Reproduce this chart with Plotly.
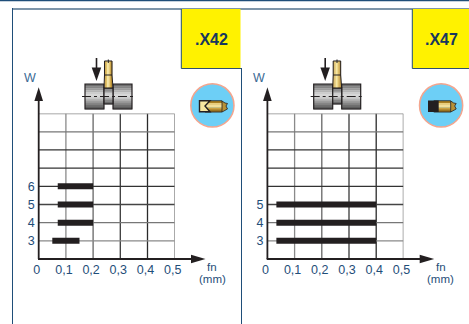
import plotly.graph_objects as go

W_PX = 469
H_PX = 324

X_TICKS = [0, 0.1, 0.2, 0.3, 0.4, 0.5]
X_LABELS = ["0", "0,1", "0,2", "0,3", "0,4", "0,5"]
W_ROWS = [3, 4, 5, 6, 7, 8, 9, 10]

LEFT_CODE = ".X42"
LEFT_W = [3, 4, 5, 6]
LEFT_START = [0.05, 0.07, 0.07, 0.07]
LEFT_END = [0.15, 0.2, 0.2, 0.2]

RIGHT_CODE = ".X47"
RIGHT_W = [3, 4, 5]
RIGHT_START = [0.033, 0.033, 0.033]
RIGHT_END = [0.4, 0.4, 0.4]

INK = "#231f20"
BLUE = "#1f4e79"
YELLOW = "#fff200"
X_GRID_COLORS = ["#8a8a8a", "#666666", "#3a3a3a", "#2a2a2a", "#808080"]
W_GRID_COLORS = ["#8a8a8a", "#777777", "#444444", "#333333", "#333333", "#333333", "#777777", "#8a8a8a"]
STEEL = ["#6f6f6f", "#858585", "#9c9c9c", "#b4b4b4", "#cccccc", "#d6d6d6",
         "#cccccc", "#b4b4b4", "#9c9c9c", "#858585", "#6f6f6f", "#5c5c5c"]
GOLD = ["#c9a24a", "#e0c268", "#f5e6a6", "#f0d98a", "#d8b350", "#b88f35"]

shapes = []
annotations = []


def px(x):
    return x / W_PX


def py(y):
    return 1 - y / H_PX


def rect(x0, y0, x1, y1, fill, line=None, width=0, layer="above"):
    shapes.append(dict(type="rect", xref="paper", yref="paper", x0=px(x0), x1=px(x1),
                       y0=py(y0), y1=py(y1), fillcolor=fill, layer=layer,
                       line=dict(color=line or fill, width=width)))


def seg(x0, y0, x1, y1, color, width=1, dash=None):
    shapes.append(dict(type="line", xref="paper", yref="paper", x0=px(x0), x1=px(x1),
                       y0=py(y0), y1=py(y1), line=dict(color=color, width=width, dash=dash)))


def poly(points, fill, line=None, width=0):
    path = "M" + " L".join(f"{px(x):.5f},{py(y):.5f}" for x, y in points) + " Z"
    shapes.append(dict(type="path", xref="paper", yref="paper", path=path, fillcolor=fill,
                       line=dict(color=line or fill, width=width)))


def label(x, y, text, size=12, color=BLUE, bold=False):
    annotations.append(dict(xref="paper", yref="paper", x=px(x), y=py(y), text=f"<b>{text}</b>" if bold else text,
                            showarrow=False, xanchor="center", yanchor="middle",
                            font=dict(family="Liberation Sans", size=size, color=color)))


def steel_block(x0, y0, x1, y1):
    step = (y1 - y0) / len(STEEL)
    for i, c in enumerate(STEEL):
        rect(x0, y0 + i * step, x1, y0 + (i + 1) * step + 0.3, c)
    rect(x0, y0, x1, y1, "rgba(0,0,0,0)", INK, 1.2)


def gold_stripes(x0, x1, y0, y1):
    step = (x1 - x0) / len(GOLD)
    for i, c in enumerate(GOLD):
        rect(x0 + i * step, y0, x0 + (i + 1) * step + 0.2, y1, c)


def draw_icons(dx, dark_block):
    # workpiece and feed arrow
    steel_block(85 + dx, 84, 104 + dx, 109)
    steel_block(113 + dx, 84, 132 + dx, 109)
    steel_block(104 + dx, 88, 113 + dx, 104)
    seg(82 + dx, 96.5, 135 + dx, 96.5, INK, 1, "dashdot")
    gold_stripes(104.5 + dx, 112 + dx, 61, 88)
    poly([(104.5 + dx, 61), (112 + dx, 61), (112 + dx, 75), (113 + dx, 88), (104 + dx, 88), (104.5 + dx, 75)],
         "rgba(0,0,0,0)", INK, 1)
    seg(104.5 + dx, 75, 112 + dx, 75, INK, 1)
    seg(108.3 + dx, 59.5, 108.3 + dx, 63, INK, 1)
    seg(96.5 + dx, 58, 96.5 + dx, 70, INK, 1.6)
    poly([(91.7 + dx, 67.5), (101.2 + dx, 67.5), (96.5 + dx, 81)], INK)

    # insert badge
    shapes.append(dict(type="circle", xref="paper", yref="paper", x0=px(190.8 + dx), x1=px(234 + dx),
                       y0=py(83.8), y1=py(127), fillcolor="#6dcff6", line=dict(color="#f4a58e", width=1.5)))
    gold_bands = [("#a97f20", 101), ("#e8cf80", 103), ("#f3e09a", 105), ("#cda445", 107.5), ("#9c7420", 109.5)]
    for c, y in gold_bands:
        rect(205 + dx, y, 222 + dx, y + 2.6, c)
    poly([(222 + dx, 101), (225 + dx, 103), (227.5 + dx, 103.5), (226 + dx, 106), (227.5 + dx, 109),
          (222 + dx, 112)], "#b89238", INK, 0.8)
    seg(205 + dx, 100.7, 222 + dx, 100.7, INK, 0.8)
    seg(205 + dx, 112, 222 + dx, 112, INK, 0.8)
    if dark_block:
        rect(199.3 + dx, 100.5, 210 + dx, 112, INK)
    else:
        poly([(199.5 + dx, 100.7), (210 + dx, 100.7), (205 + dx, 106), (210 + dx, 111.8), (199.5 + dx, 111.8)],
             "#f7e6a0", INK, 1.4)


def draw_panel(dx, code, x_ref, y_ref, box_left, code_x):
    # frame pieces
    rect(box_left, 9, 240.5 + dx, 68.5, YELLOW, layer="below")
    seg(box_left, 9, box_left, 68.5, BLUE, 1)
    seg(box_left, 68.5, 241 + dx, 68.5, "#30506e", 1)
    label(code_x, 39.7, code, 16, "#17375e", True)
    label(30 + dx, 78.3, "W", 12.5, "#3b6a94")
    label(212 + dx, 267, "fn", 11.5)
    label(212 + dx, 279, "(mm)", 11.5)
    draw_icons(dx, code == RIGHT_CODE)

    # grid, axis units through the subplot scales
    for v, c in zip(X_TICKS[1:], X_GRID_COLORS):
        shapes.append(dict(type="line", xref=x_ref, yref=y_ref, x0=v, x1=v, y0=2, y1=10, layer="below",
                           line=dict(color=c, width=1.3)))
    for v, c in zip(W_ROWS, W_GRID_COLORS):
        shapes.append(dict(type="line", xref=x_ref, yref=y_ref, x0=0, x1=0.5, y0=v, y1=v, layer="below",
                           line=dict(color=c, width=1.3)))

    # axes with arrow heads
    seg(38.7 + dx, 259, 38.7 + dx, 98, INK, 1.8)
    poly([(38.7 + dx, 87.3), (43 + dx, 101), (34.4 + dx, 101)], INK)
    seg(38 + dx, 259, 193 + dx, 259, INK, 1.8)
    poly([(205.5 + dx, 259), (191 + dx, 254.7), (191 + dx, 263.3)], INK)


fig = go.Figure()

for code, xa, ya, rows, starts, ends in [
    (LEFT_CODE, "x", "y", LEFT_W, LEFT_START, LEFT_END),
    (RIGHT_CODE, "x2", "y2", RIGHT_W, RIGHT_START, RIGHT_END),
]:
    fig.add_trace(go.Bar(
        y=rows,
        x=[e - s for s, e in zip(starts, ends)],
        base=starts,
        orientation="h",
        width=0.33,
        marker=dict(color=INK, line=dict(width=0)),
        xaxis=xa,
        yaxis=ya,
        name=code,
        showlegend=False,
    ))

# page frame
rect(0, 0, W_PX, 1.2, BLUE, layer="below")
rect(12, 8, W_PX, 10, "#7d95aa", layer="below")
rect(12, 8, 13, H_PX, BLUE, layer="below")
rect(241, 68, 242, H_PX, BLUE, layer="below")

draw_panel(0, LEFT_CODE, "x", "y", 181.3, 211.3)
draw_panel(228.7, RIGHT_CODE, "x2", "y2", 412.3, 441.8)


def x_axis(dx, anchor):
    return dict(domain=[px(38.7 + dx), px(174.7 + dx)], range=[0, 0.5], anchor=anchor,
                tickmode="array", tickvals=X_TICKS, ticktext=X_LABELS, showgrid=False, zeroline=False,
                ticklabelshift=-2, ticklabelstandoff=1,
                tickfont=dict(family="Liberation Sans", size=12.5, color=BLUE))


def y_axis(dx, anchor, rows):
    return dict(domain=[py(259), py(113.6)], range=[2, 10], anchor=anchor,
                tickmode="array", tickvals=rows, ticktext=[str(r) for r in rows], showgrid=False, zeroline=False,
                ticklabelstandoff=3,
                tickfont=dict(family="Liberation Sans", size=12.5, color=BLUE))


fig.update_layout(
    width=W_PX,
    height=H_PX,
    margin=dict(l=0, r=0, t=0, b=0, pad=0, autoexpand=False),
    paper_bgcolor="white",
    plot_bgcolor="rgba(0,0,0,0)",
    barmode="overlay",
    xaxis=x_axis(0, "y"),
    yaxis=y_axis(0, "x", LEFT_W),
    xaxis2=x_axis(228.7, "y2"),
    yaxis2=y_axis(228.7, "x2", RIGHT_W),
    shapes=shapes,
    annotations=annotations,
)

fig.write_html("out.html", config=dict(displayModeBar=False),
               post_script="document.body.style.margin='0';")
